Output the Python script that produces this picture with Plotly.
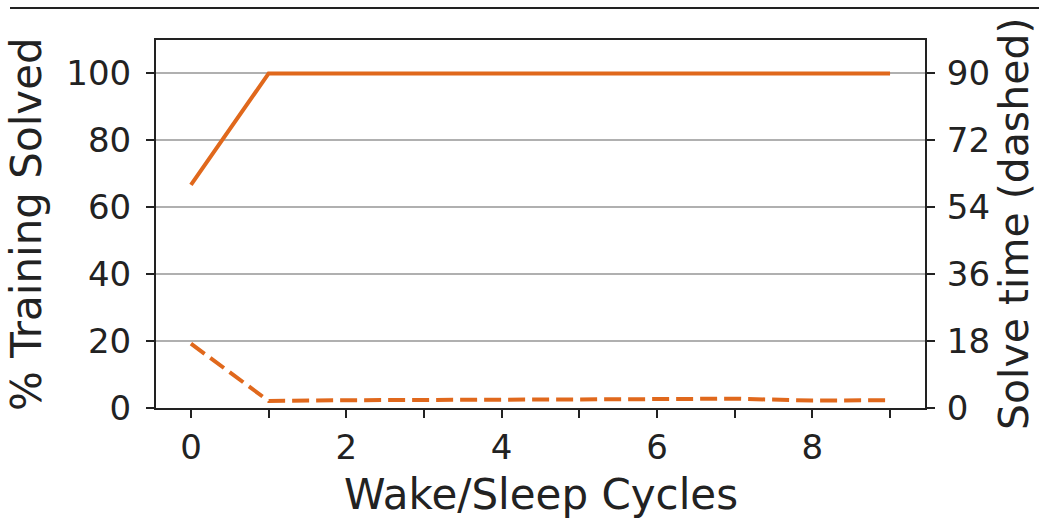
import plotly.graph_objects as go

# Wake/sleep cycle results
cycles = [0, 1, 2, 3, 4, 5, 6, 7, 8, 9]
pct_solved = [66.7, 100, 100, 100, 100, 100, 100, 100, 100, 100]
solve_time = [17.3, 1.9, 2.1, 2.1, 2.2, 2.3, 2.4, 2.5, 2.0, 2.1]

x_tickvals = [0, 1, 2, 3, 4, 5, 6, 7, 8, 9]
x_ticktext = ["0", "", "2", "", "4", "", "6", "", "8", ""]
left_ticks = [0, 20, 40, 60, 80, 100]
right_ticks = [0, 18, 36, 54, 72, 90]

ORANGE = "#e0681c"
INK = "#222222"
FONT = "DejaVu Sans"

fig = go.Figure()
fig.add_trace(go.Scatter(
    x=cycles, y=pct_solved, mode="lines",
    line=dict(color=ORANGE, width=4), yaxis="y", showlegend=False,
))
fig.add_trace(go.Scatter(
    x=cycles, y=solve_time, mode="lines",
    line=dict(color=ORANGE, width=4, dash="17px,7px"), yaxis="y2", showlegend=False,
))

axis_common = dict(
    showline=True, linecolor=INK, linewidth=2,
    ticks="outside", ticklen=8, tickwidth=2, tickcolor=INK,
    tickfont=dict(family=FONT, size=34, color=INK),
    zeroline=False,
)

fig.update_layout(
    width=1039, height=521,
    margin=dict(l=156, r=114, t=40, b=113),
    paper_bgcolor="white", plot_bgcolor="white",
    font=dict(family=FONT, color=INK),
    xaxis=dict(
        range=[-0.45, 9.45], tickmode="array",
        tickvals=x_tickvals, ticktext=x_ticktext,
        showgrid=False, mirror=True, **axis_common,
    ),
    yaxis=dict(
        range=[0, 110], tickmode="array", tickvals=left_ticks,
        showgrid=True, gridcolor="#b0b0b0", gridwidth=1.5,
        ticklabelstandoff=8, **axis_common,
    ),
    yaxis2=dict(
        range=[0, 99], tickmode="array", tickvals=right_ticks,
        overlaying="y", side="right", showgrid=False,
        ticklabelstandoff=5, **axis_common,
    ),
    annotations=[
        dict(text="% Training Solved", xref="paper", yref="paper",
             x=(26 - 156) / 769, y=0.5, textangle=-90, showarrow=False,
             font=dict(family=FONT, size=42, color=INK),
             xanchor="center", yanchor="middle"),
        dict(text="Solve time (dashed)", xref="paper", yref="paper",
             x=(1014 - 156) / 769, y=0.5, textangle=-90, showarrow=False,
             font=dict(family=FONT, size=41, color=INK),
             xanchor="center", yanchor="middle"),
        dict(text="Wake/Sleep Cycles", xref="paper", yref="paper",
             x=0.5, y=(408 - 495) / 368, showarrow=False,
             font=dict(family=FONT, size=42, color=INK),
             xanchor="center", yanchor="middle"),
    ],
    shapes=[
        dict(type="line", xref="paper", yref="paper",
             x0=(10 - 156) / 769, x1=(1039 - 156) / 769,
             y0=(408 - 8) / 368, y1=(408 - 8) / 368,
             line=dict(color=INK, width=2)),
    ],
)

fig.write_html("out.html")
